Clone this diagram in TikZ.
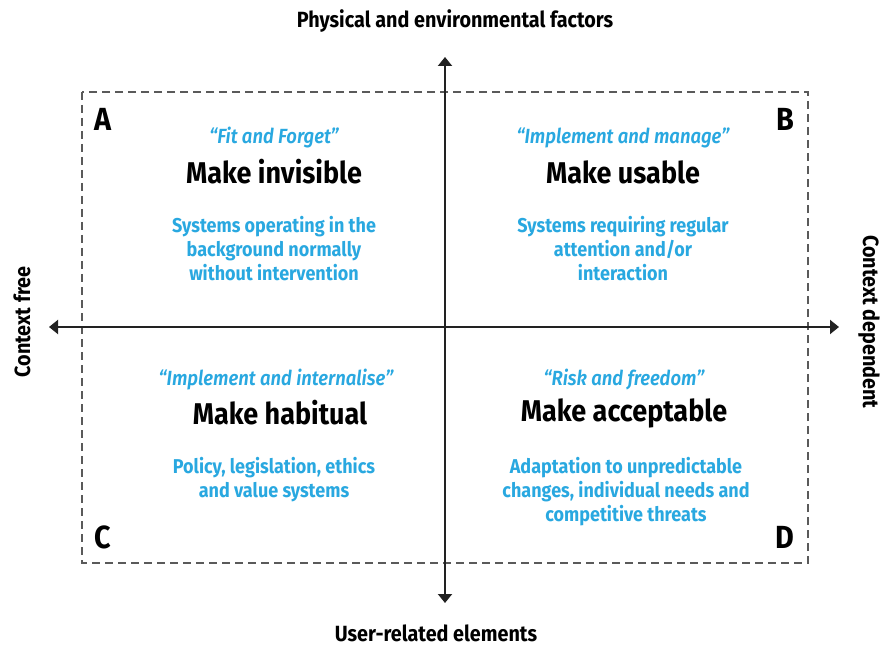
\documentclass[tikz,border=0pt]{standalone}
\usepackage{fontspec}
\setmainfont{Fira Sans}[FakeStretch=0.9,UprightFont=* Bold,ItalicFont=* SemiBold Italic,BoldFont=* Bold,BoldItalicFont=* SemiBold Italic]
\usetikzlibrary{arrows.meta}
\definecolor{qblue}{RGB}{41,168,224}
\definecolor{axisc}{RGB}{34,34,34}
\definecolor{dashc}{RGB}{90,90,90}
\tikzset{
  axis/.style={draw=axisc,line width=2pt,-{Triangle[width=14pt,length=9pt]}},
  frame/.style={draw=dashc,line width=1.1pt,dash pattern=on 8pt off 5pt},
  corner/.style={font=\fontsize{32}{32}\selectfont,text=black,inner sep=0pt},
  quote/.style={font=\itshape\fontsize{20.5}{20.5}\selectfont,text=qblue,inner sep=0pt},
  head/.style={font=\fontsize{30}{30}\selectfont,text=black,inner sep=0pt},
  body/.style={font=\fontsize{20}{24}\selectfont,text=qblue,align=center,inner sep=0pt,anchor=north},
  axlabel/.style={font=\fontsize{22}{22}\selectfont,text=black,inner sep=0pt},
}
\begin{document}
\begin{tikzpicture}[x=1pt,y=-1pt]
\useasboundingbox (0,0) rectangle (881,647);
\draw[frame] (82,92) rectangle (808,563);
\coordinate (top) at (445,57);
\coordinate (bot) at (445,603);
\coordinate (lft) at (49,327);
\coordinate (rgt) at (839,327);
\coordinate (ctr) at (445,327);
\draw[axis] (ctr) -- (top);
\draw[axis] (ctr) -- (bot);
\draw[axis] (ctr) -- (lft);
\draw[axis] (ctr) -- (rgt);
\node[axlabel] (lt) at (455,21) {Physical and environmental factors};
\node[axlabel] (lb) at (436,633) {User-related elements};
\node[axlabel,rotate=90] (ll) at (22,322) {Context free};
\node[axlabel,rotate=-90] (lr) at (869,322) {Context dependent};
\node[corner] (A) at (103,119) {A};
\node[corner] (B) at (785,119) {B};
\node[corner] (C) at (103,537) {C};
\node[corner] (D) at (785,537) {D};
% A
\node[quote] (qa) at (274,138) {“Fit and Forget”};
\node[head] (ha) at (274,172) {Make invisible};
\node[body] (ba) at (274,216) {Systems operating in the\\background normally\\without intervention};
% B
\node[quote] (qb) at (623,138) {“Implement and manage”};
\node[head] (hb) at (623,172) {Make usable};
\node[body] (bb) at (623,216) {Systems requiring regular\\attention and/or\\interaction};
% C
\node[quote] (qc) at (276,380) {“Implement and internalise”};
\node[head] (hc) at (280,413) {Make habitual};
\node[body] (bc) at (274,457) {Policy, legislation, ethics\\and value systems};
% D
\node[quote] (qd) at (624,380) {“Risk and freedom”};
\node[head] (hd) at (624,413) {Make acceptable};
\node[body] (bd) at (626,457) {Adaptation to unpredictable\\changes, individual needs and\\competitive threats};
\end{tikzpicture}
\end{document}
